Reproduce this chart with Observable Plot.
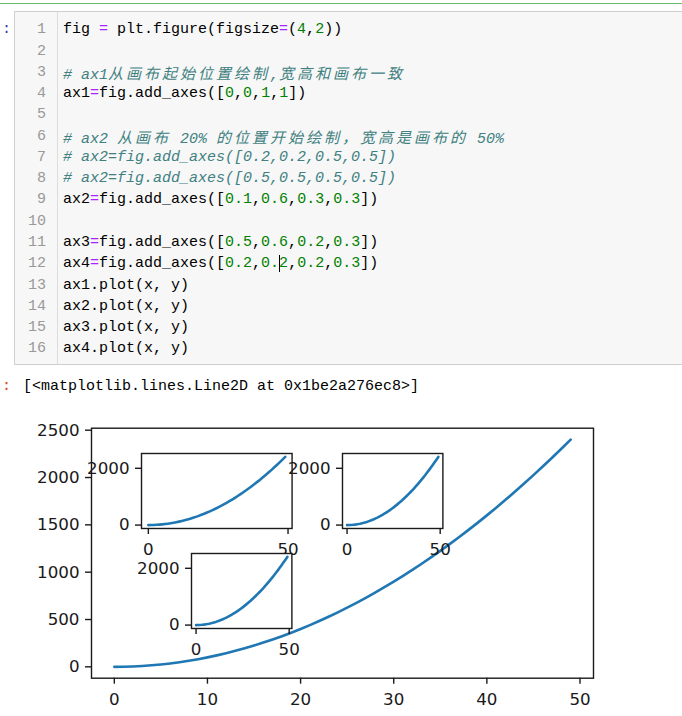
<!DOCTYPE html>
<html>
<head>
<meta charset="utf-8">
<script src="https://cdn.jsdelivr.net/npm/d3@7"></script>
<script src="https://cdn.jsdelivr.net/npm/@observablehq/plot@0.6"></script>
<style>
  html, body { margin: 0; padding: 0; background: #fff; }
  body { width: 682px; height: 716px; position: relative; overflow: hidden; }
  .mono { font-family: "Liberation Mono", "DejaVu Sans Mono", monospace; font-size: 15px; }
  .cjk { font-family: "Noto Sans CJK SC", sans-serif; letter-spacing: 3px; }
  #greenbar { position: absolute; left: 0; top: 3px; width: 682px; height: 1px; background: #66bb6a; }
  #codebox { position: absolute; left: 14px; top: 11px; width: 700px; height: 354px; background: #f7f7f7; border: 1px solid #cfcfcf; box-sizing: border-box; }
  #gutter { position: absolute; left: 57px; top: 12px; width: 1px; height: 352px; background: #ddd; }
  .ln { position: absolute; left: 14px; width: 32px; text-align: right; color: #999; line-height: 21.27px; white-space: pre; }
  .code { position: absolute; left: 63px; color: #000; line-height: 21.27px; white-space: pre; }
  .cm { color: #408080; font-style: italic; }
  .op { color: #aa22ff; }
  .nm { color: #008000; }
  .prompt { position: absolute; left: 2px; line-height: 21.27px; }
  .inset { position: absolute; }
  #main { position: absolute; left: 0; top: 400px; }
</style>
</head>
<body>
<div id="greenbar"></div>
<div id="codebox"></div>
<div id="gutter"></div>
<div id="cells"></div>
<div id="main"></div>
<div id="ax2" class="inset"></div>
<div id="ax3" class="inset"></div>
<div id="ax4" class="inset"></div>
<script>
// ---- data ----
const xs = [0,1,2,3,4,5,6,7,8,9,10,11,12,13,14,15,16,17,18,19,20,21,22,23,24,25,26,27,28,29,30,31,32,33,34,35,36,37,38,39,40,41,42,43,44,45,46,47,48,49];
const ys = [0,1,4,9,16,25,36,49,64,81,100,121,144,169,196,225,256,289,324,361,400,441,484,529,576,625,676,729,784,841,900,961,1024,1089,1156,1225,1296,1369,1444,1521,1600,1681,1764,1849,1936,2025,2116,2209,2304,2401];
const mainXTicks = [0,10,20,30,40,50];
const mainYTicks = [0,500,1000,1500,2000,2500];
const insetXTicks = [0,50];
const insetYTicks = [0,2000];

const codeLines = [
  'fig <op>=</op> plt.figure(figsize<op>=</op>(<nm>4</nm>,<nm>2</nm>))',
  '',
  '<cm># ax1从画布起始位置绘制,宽高和画布一致</cm>',
  'ax1<op>=</op>fig.add_axes([<nm>0</nm>,<nm>0</nm>,<nm>1</nm>,<nm>1</nm>])',
  '',
  '<cm># ax2 从画布 20% 的位置开始绘制，宽高是画布的 50%</cm>',
  '<cm># ax2=fig.add_axes([0.2,0.2,0.5,0.5])</cm>',
  '<cm># ax2=fig.add_axes([0.5,0.5,0.5,0.5])</cm>',
  'ax2<op>=</op>fig.add_axes([<nm>0.1</nm>,<nm>0.6</nm>,<nm>0.3</nm>,<nm>0.3</nm>])',
  '',
  'ax3<op>=</op>fig.add_axes([<nm>0.5</nm>,<nm>0.6</nm>,<nm>0.2</nm>,<nm>0.3</nm>])',
  'ax4<op>=</op>fig.add_axes([<nm>0.2</nm>,<nm>0.</nm><cur></cur><nm>2</nm>,<nm>0.2</nm>,<nm>0.3</nm>])',
  'ax1.plot(x, y)',
  'ax2.plot(x, y)',
  'ax3.plot(x, y)',
  'ax4.plot(x, y)'
];
const outputText = '[<matplotlib.lines.Line2D at 0x1be2a276ec8>]';

// ---- notebook cell ----
function toHtml(s) {
  return s
    .replace(/<op>/g, '<span class="op">').replace(/<\/op>/g, '</span>')
    .replace(/<nm>/g, '<span class="nm">').replace(/<\/nm>/g, '</span>')
    .replace(/<cm>/g, '<span class="cm">').replace(/<\/cm>/g, '</span>')
    .replace(/<cur><\/cur>/g, '<span style="border-left:1px solid #000;margin-right:-1px"></span>')
    .replace(/([\u3000-\u9fff\uff00-\uffef]+)/g, '<span class="cjk">$1</span>');
}
const cells = document.getElementById('cells');
const lh = 21.27, firstTop = 19.3;
let html = '';
html += `<div class="prompt mono" style="top:${firstTop}px;color:#303f9f">:</div>`;
codeLines.forEach((l, i) => {
  const top = firstTop + i * lh;
  html += `<div class="ln mono" style="top:${top}px">${i + 1}</div>`;
  html += `<div class="code mono" style="top:${top}px">${toHtml(l)}</div>`;
});
const outTop = 376;
html += `<div class="prompt mono" style="top:${outTop}px;color:#d84315">:</div>`;
html += `<div class="code mono" style="top:${outTop}px;left:23px">${outputText.replace(/</g,'&lt;').replace(/>/g,'&gt;')}</div>`;
cells.innerHTML = html;

// ---- charts ----
const data = xs.map((x, i) => ({x, y: ys[i]}));
const xDomain = [-2.45, 51.45];
const yDomain = [-120.05, 2521.05];
const blue = "#1f77b4";
const ink = "#1a1a1a";
const font = {fontFamily: "DejaVu Sans", fontSize: "16.7px", color: ink, background: "transparent", overflow: "visible"};

function axesPlot({width, height, mL, mR, mT, mB, xTicks, yTicks}) {
  return Plot.plot({
    width, height,
    marginLeft: mL, marginRight: mR, marginTop: mT, marginBottom: mB,
    style: font,
    x: {domain: xDomain, label: null},
    y: {domain: yDomain, label: null},
    marks: [
      Plot.frame({fill: "white", stroke: null}),
      Plot.line(data, {x: "x", y: "y", stroke: blue, strokeWidth: 2.6}),
      Plot.frame({stroke: ink, strokeWidth: 1.4}),
      Plot.axisX({ticks: xTicks, tickSize: 6, tickPadding: 9, strokeWidth: 1.4, stroke: ink, fill: ink, label: null, tickFormat: d => String(d)}),
      Plot.axisY({ticks: yTicks, tickSize: 6, tickPadding: 6, strokeWidth: 1.4, stroke: ink, fill: ink, label: null, tickFormat: d => String(d)})
    ]
  });
}

// main axes: frame 91..593 x, 427.7..677.7 y (page), svg top at 400
document.getElementById('main').append(axesPlot({
  width: 682, height: 316, mL: 91, mR: 89, mT: 27.7, mB: 38.3,
  xTicks: mainXTicks, yTicks: mainYTicks
}));

function inset(id, left, top, w, h) {
  const mL = 60, mR = 15, mT = 5, mB = 38;
  const el = document.getElementById(id);
  el.style.left = (left - mL) + "px";
  el.style.top = (top - mT) + "px";
  el.append(axesPlot({width: mL + w + mR, height: mT + h + mB, mL, mR, mT, mB, xTicks: insetXTicks, yTicks: insetYTicks}));
}
inset('ax2', 141.2, 452.7, 150.6, 75);
inset('ax3', 342.0, 452.7, 100.4, 75);
inset('ax4', 191.4, 552.7, 100.4, 75);
</script>
</body>
</html>
